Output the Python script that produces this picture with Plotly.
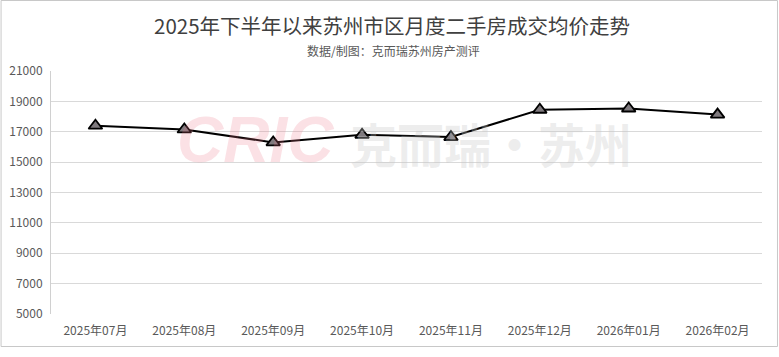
import plotly.graph_objects as go

months = ["2025年07月", "2025年08月", "2025年09月", "2025年10月",
          "2025年11月", "2025年12月", "2026年01月", "2026年02月"]
prices = [17400, 17150, 16300, 16800, 16650, 18450, 18530, 18130]
y_ticks = [5000, 7000, 9000, 11000, 13000, 15000, 17000, 19000, 21000]

title_text = "2025年下半年以来苏州市区月度二手房成交均价走势"
subtitle_text = "数据/制图：克而瑞苏州房产测评"

W, H = 779, 357
L, R, T, B = 50.5, 16.5, 71, 43
pw, ph = W - L - R, H - T - B

def px(x):
    return (x - L) / pw

def py(y):
    return (H - B - y) / ph

font_main = "Liberation Sans Narrow, Noto Sans CJK SC, sans-serif"

fig = go.Figure()
fig.add_trace(go.Scatter(
    x=months, y=prices, mode="lines+markers",
    line=dict(color="#000000", width=2),
    marker=dict(symbol="triangle-up", size=12, color="#7f7a7e",
                line=dict(color="#000000", width=1.8)),
    showlegend=False, cliponaxis=False,
))

fig.update_layout(
    width=W, height=H,
    margin=dict(l=L, r=R, t=T, b=B, autoexpand=False),
    paper_bgcolor="white", plot_bgcolor="white",
    font=dict(family=font_main, size=12, color="#595959"),
    xaxis=dict(showgrid=False, showline=False, ticks="", zeroline=False,
               ticklabelstandoff=8, automargin=False,
               tickfont=dict(size=12, color="#595959",
                             family="Liberation Sans Narrow, Noto Sans CJK SC"),
               range=[-0.5, 7.5]),
    yaxis=dict(range=[5000, 21000], tickvals=y_ticks,
               ticktext=[str(v) for v in y_ticks],
               showgrid=True, gridcolor="#d9d9d9", gridwidth=1,
               showline=True, linecolor="#d0d0d0", linewidth=1,
               zeroline=False, ticks="", ticklen=0, automargin=False,
               ticklabelstandoff=5,
               tickfont=dict(size=12, color="#595959",
                             family="Liberation Sans Narrow, Noto Sans CJK SC")),
    shapes=[dict(type="rect", xref="paper", yref="paper",
                 x0=px(0.5), x1=px(778), y0=py(346.5), y1=py(0.5),
                 line=dict(color="#c8c8c8", width=1), layer="below")],
    annotations=[
        dict(text=title_text, xref="paper", yref="paper",
             x=px(392), y=py(25.5), xanchor="center", yanchor="middle",
             showarrow=False,
             font=dict(size=20.5, color="#404040",
                       family="Liberation Sans Narrow, Noto Sans CJK SC")),
        dict(text=subtitle_text, xref="paper", yref="paper",
             x=px(393), y=py(50), xanchor="center", yanchor="middle",
             showarrow=False,
             font=dict(size=12, color="#595959",
                       family="Noto Sans CJK SC")),
        dict(text="<b><i>CRIC</i></b>", xref="paper", yref="paper",
             x=px(255), y=py(140), xanchor="center", yanchor="middle",
             showarrow=False,
             font=dict(size=64, color="rgba(235,120,135,0.22)",
                       family="Liberation Sans, Noto Sans")),
        dict(text="<b>克而瑞·苏州</b>", xref="paper", yref="paper",
             x=px(491), y=py(142), xanchor="center", yanchor="middle",
             showarrow=False,
             font=dict(size=47, color="rgba(200,200,200,0.32)",
                       family="Noto Sans CJK SC")),
    ],
)

fig.write_html("out.html")
